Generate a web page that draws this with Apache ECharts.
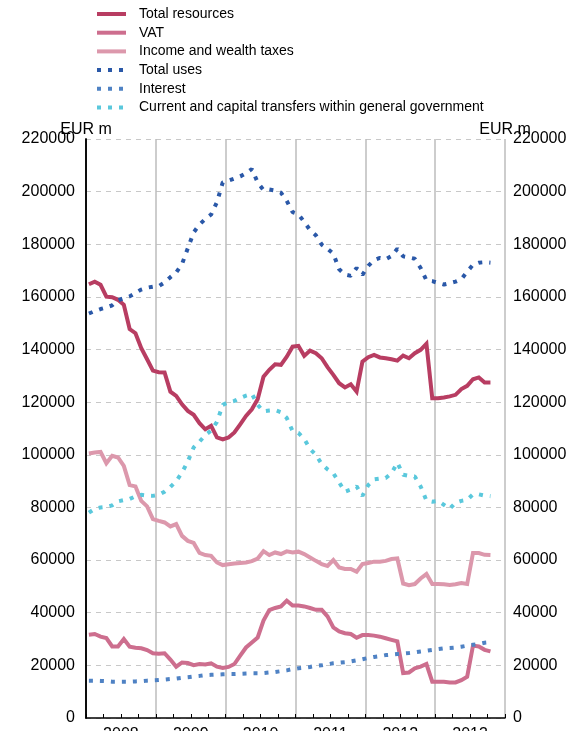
<!DOCTYPE html>
<html>
<head>
<meta charset="utf-8">
<script src="https://cdn.jsdelivr.net/npm/echarts@6/dist/echarts.min.js"></script>
<style>
  html, body { margin: 0; padding: 0; background: #ffffff; }
  #chart { width: 571px; height: 731px; }
</style>
</head>
<body>
<div id="chart"></div>
<script>
// Monthly figures, EUR m, January 2008 onwards
const years = ['2008', '2009', '2010', '2011', '2012', '2013'];
const unitLabel = 'EUR m';

const totalResources = [
  164800,165800,164600,160100,159900,158900,157000,147800,146200,140500,
  136300,132000,131400,131300,124000,122400,119200,116700,115200,112000,
  109700,111000,106600,105900,106600,108500,111600,114800,117300,121100,
  129700,132300,134400,134200,137300,141100,141400,137600,139600,138600,
  136700,133300,130400,127200,125600,126800,124000,135400,137100,138000,
  137000,136700,136300,135800,137700,136700,138600,139900,142200,121500,
  121500,121800,122200,122800,125000,126200,128700,129400,127500,127500
];

const vat = [
  31600,31900,30900,30400,27200,27200,30000,27100,26700,26500,
  25800,24600,24400,24600,22200,19500,21100,20900,20100,20500,
  20300,20800,19500,19000,19400,20500,23700,26800,28700,30600,
  37000,41000,41800,42400,44600,42700,42700,42400,41800,41100,
  41100,38600,34400,32900,32200,31900,30500,31500,31500,31300,
  30900,30300,29700,29100,17100,17300,18900,19500,20500,13800,
  13800,13800,13500,13500,14400,15700,27500,27200,25900,25300
];

const incomeWealthTaxes = [
  100500,100900,101100,96800,99600,99000,95800,88500,88000,82500,
  80400,75600,74900,74300,72800,73700,69200,67300,66500,62700,
  61900,61600,59100,58100,58400,58700,58900,59100,59600,60600,
  63400,61900,62900,62300,63300,62900,63200,62300,61000,59700,
  58500,57800,60000,57200,56600,56600,55600,58500,58900,59400,
  59400,59700,60400,60600,51100,50500,50900,53000,54700,50900,
  50900,50800,50500,50800,51300,50900,62700,62700,62000,61900
];

const totalUses = [
  153700,154600,155400,156000,156800,158700,159500,160200,161500,162800,
  163500,163900,164100,165500,167500,169300,172500,178500,184500,187500,
  189600,191300,196000,203500,204200,205000,205800,207000,208600,203500,
  200600,200800,200400,199600,196500,192200,191400,188500,185400,183400,
  179900,178300,176400,170500,168500,168000,171000,168400,171800,174000,
  174800,174300,175500,178300,175400,175000,174500,171000,166300,166000,
  165300,164700,165200,165800,166700,169600,172200,173000,173200,173000
];

const interest = [
  14200,14200,14100,14000,13800,13800,13800,13800,13900,14000,
  14200,14300,14400,14600,14800,15000,15300,15500,15800,16000,
  16300,16400,16500,16600,16700,16700,16800,16900,17000,17000,
  17100,17300,17500,17800,18100,18600,18900,19100,19400,19800,
  20000,20400,20800,21000,21200,21500,21900,22300,22800,23200,
  23500,23900,24100,24300,24500,24700,25000,25300,25600,25900,
  26200,26500,26600,26800,27100,27500,27800,28100,28600,28800
];

const transfers = [
  78000,79500,80000,80200,80800,82300,82800,83200,84200,84800,
  84500,84400,84800,86000,87800,90000,93300,97500,102800,105000,
  107500,109200,112500,119000,120000,120500,121600,122500,123200,119000,
  116500,116800,117000,116200,114000,109000,108300,106000,102200,100000,
  96500,94500,93000,89500,86000,86800,88000,84400,88500,90700,
  91000,91200,93000,97000,92400,92000,91800,88000,82600,82200,
  82500,81000,79500,81800,82500,82900,85000,85000,84500,84300
];

// One category per month across the six years shown
const months = [];
years.forEach(y => {
  for (let m = 1; m <= 12; m++) months.push(y + '-' + String(m).padStart(2, '0'));
});

const FONT = '"Liberation Sans", Arial, Helvetica, sans-serif';
const DOT = [4, 7];
const Y_MAX = 220000;

function solid(name, data, color) {
  return {
    name, type: 'line', data, xAxisIndex: 0, yAxisIndex: 0,
    symbol: 'none', showSymbol: false, animation: false,
    lineStyle: { color, width: 4, join: 'miter', cap: 'butt' },
    itemStyle: { color }
  };
}
function dotted(name, data, color) {
  return {
    name, type: 'line', data, xAxisIndex: 0, yAxisIndex: 0,
    symbol: 'none', showSymbol: false, animation: false,
    lineStyle: { color, width: 4, type: DOT, cap: 'butt' },
    itemStyle: { color }
  };
}

const yAxisBase = {
  type: 'value', min: 0, max: Y_MAX, interval: 20000,
  nameLocation: 'end', nameGap: 1, nameMoveOverlap: false,
  nameTextStyle: { fontFamily: FONT, fontSize: 16, color: '#000', align: 'center', verticalAlign: 'bottom' },
  axisLine: { show: true, lineStyle: { color: '#000', width: 1.5 } },
  axisTick: { show: false },
  axisLabel: { fontFamily: FONT, fontSize: 16, color: '#000', formatter: v => String(v) }
};

const chart = echarts.init(document.getElementById('chart'), null, { renderer: 'canvas' });
chart.setOption({
  backgroundColor: '#ffffff',
  animation: false,
  textStyle: { fontFamily: FONT },
  grid: { left: 86, right: 66, top: 139, bottom: 13, containLabel: false, outerBoundsMode: 'none' },
  legend: {
    orient: 'vertical', left: 95, top: 7, padding: 0,
    itemWidth: 29, itemHeight: 14, itemGap: 4.7,
    itemStyle: { opacity: 0 },
    lineStyle: { width: 4 },
    textStyle: { fontFamily: FONT, fontSize: 14, color: '#000', padding: [0, 0, 0, 8] },
    data: ['Total resources', 'VAT', 'Income and wealth taxes', 'Total uses', 'Interest',
           'Current and capital transfers within general government']
  },
  xAxis: [
    { // monthly positions for the data
      type: 'category', data: months, boundaryGap: true, show: false
    },
    { // quarter ticks and year labels
      type: 'value', min: 0, max: 72, interval: 3, position: 'bottom',
      axisLine: { show: true, onZero: false, lineStyle: { color: '#000', width: 1.5 } },
      axisTick: { show: true, inside: true, length: 4, lineStyle: { color: '#000', width: 1 } },
      axisLabel: {
        fontFamily: FONT, fontSize: 16, color: '#000', margin: 9,
        showMinLabel: true, showMaxLabel: true,
        formatter: v => (v % 12 === 6 ? years[(v - 6) / 12] : '')
      },
      splitLine: { show: false }
    },
    { // year boundaries
      type: 'value', min: 0, max: 72, interval: 12, position: 'bottom',
      axisLine: { show: false }, axisTick: { show: false }, axisLabel: { show: false },
      splitLine: { show: true, lineStyle: { color: '#bdbdbd', width: 1.5 } }
    }
  ],
  yAxis: [
    Object.assign({}, yAxisBase, {
      position: 'left', name: unitLabel,
      axisLabel: Object.assign({}, yAxisBase.axisLabel, { margin: 11 }),
      splitLine: { show: true, lineStyle: { color: '#c8c8c8', width: 1, type: [5, 5] } }
    }),
    Object.assign({}, yAxisBase, {
      position: 'right',
      axisLabel: Object.assign({}, yAxisBase.axisLabel, { margin: 8 }),
      splitLine: { show: false }
    })
  ],
  series: [
    solid('Total resources', totalResources, '#b83d62'),
    solid('VAT', vat, '#cd6e8e'),
    solid('Income and wealth taxes', incomeWealthTaxes, '#dc98ac'),
    dotted('Total uses', totalUses, '#2a58a8'),
    dotted('Interest', interest, '#4f82c4'),
    dotted('Current and capital transfers within general government', transfers, '#5ac8dc')
  ]
});

// Unit caption above the right-hand axis, placed from the axes' own scales
const rightX = chart.convertToPixel({ xAxisIndex: 1 }, 72);
const topY = chart.convertToPixel({ yAxisIndex: 1 }, Y_MAX);
chart.setOption({
  graphic: [{
    type: 'text', x: rightX, y: topY - 1, z: 10,
    style: {
      text: unitLabel, fontFamily: FONT, fontSize: 16, fill: '#000',
      textAlign: 'center', textVerticalAlign: 'bottom'
    }
  }]
});
</script>
</body>
</html>
